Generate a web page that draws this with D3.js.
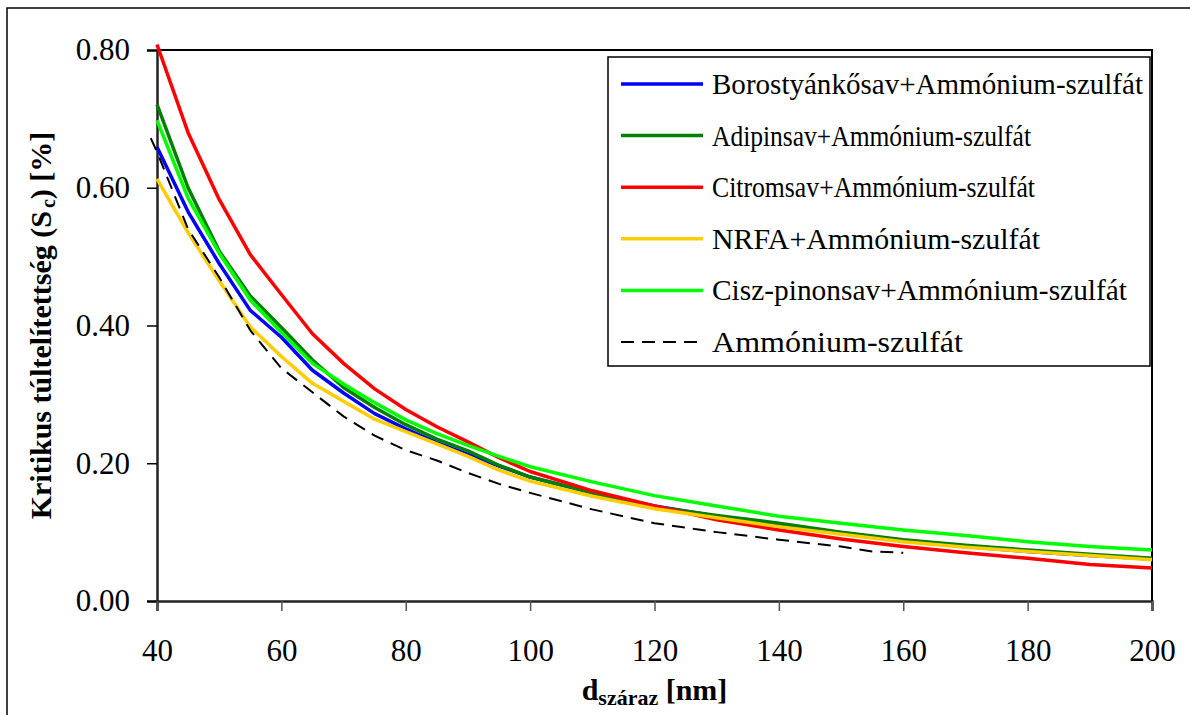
<!DOCTYPE html>
<html>
<head>
<meta charset="utf-8">
<script src="https://cdn.jsdelivr.net/npm/d3@7"></script>
<style>
  body { margin: 0; background: #fff; }
  svg { display: block; }
  text { font-family: "Liberation Serif", "Times New Roman", serif; }
</style>
</head>
<body>
<svg id="chart" width="1190" height="715"></svg>
<script>
// Dry particle diameter [nm] for the mixed-particle series
const diameters = [40, 45, 50, 55, 60, 65, 70, 75, 80, 85, 90, 95, 100, 110, 120, 130, 140, 150, 160, 170, 180, 190, 200];

// Critical supersaturation [%] for each mixture
const borostyankosav = [0.659, 0.565, 0.490, 0.422, 0.383, 0.335, 0.302, 0.272, 0.250, 0.230, 0.213, 0.196, 0.180, 0.157, 0.138, 0.123, 0.111, 0.099, 0.088, 0.079, 0.072, 0.066, 0.061];
const adipinsav      = [0.721, 0.600, 0.508, 0.443, 0.397, 0.350, 0.310, 0.281, 0.256, 0.235, 0.218, 0.197, 0.180, 0.157, 0.137, 0.124, 0.113, 0.100, 0.089, 0.081, 0.074, 0.068, 0.062];
const citromsav      = [0.808, 0.680, 0.583, 0.503, 0.445, 0.388, 0.345, 0.308, 0.278, 0.253, 0.231, 0.208, 0.188, 0.160, 0.138, 0.118, 0.103, 0.090, 0.079, 0.070, 0.062, 0.053, 0.048];
const nrfa           = [0.613, 0.535, 0.465, 0.398, 0.355, 0.316, 0.290, 0.264, 0.246, 0.228, 0.210, 0.190, 0.174, 0.152, 0.134, 0.121, 0.108, 0.097, 0.086, 0.078, 0.072, 0.066, 0.060];
const ciszPinonsav   = [0.698, 0.585, 0.505, 0.437, 0.390, 0.345, 0.315, 0.288, 0.263, 0.243, 0.226, 0.210, 0.195, 0.173, 0.153, 0.138, 0.123, 0.113, 0.103, 0.095, 0.086, 0.079, 0.074];

// Pure ammonium sulfate, measured on its own diameter grid
const ammoniumDiameters = [39, 40, 45, 50, 55, 60, 65, 70, 75, 80, 85, 90, 95, 100, 110, 120, 130, 140, 150, 155, 160];
const ammoniumSzulfat   = [0.672, 0.652, 0.540, 0.470, 0.393, 0.338, 0.303, 0.268, 0.240, 0.219, 0.204, 0.186, 0.170, 0.157, 0.133, 0.113, 0.100, 0.089, 0.079, 0.072, 0.070];

const seriesNames = [
  "Borostyánkősav+Ammónium-szulfát",
  "Adipinsav+Ammónium-szulfát",
  "Citromsav+Ammónium-szulfát",
  "NRFA+Ammónium-szulfát",
  "Cisz-pinonsav+Ammónium-szulfát",
  "Ammónium-szulfát"
];

const xTicks = [40, 60, 80, 100, 120, 140, 160, 180, 200];
const yTicks = [0, 0.2, 0.4, 0.6, 0.8];

// ---- styling ----
const seriesStyles = [
  { color: "#0000ff", dash: null },
  { color: "#008000", dash: null },
  { color: "#ff0000", dash: null },
  { color: "#ffcc00", dash: null },
  { color: "#00ff00", dash: null },
  { color: "#000000", dash: "13,8" }
];
const legendTextWidths = [431, 319, 323, 328, 415, 251];

const series = [
  { x: diameters, y: borostyankosav },
  { x: diameters, y: adipinsav },
  { x: diameters, y: citromsav },
  { x: diameters, y: nrfa },
  { x: diameters, y: ciszPinonsav },
  { x: ammoniumDiameters, y: ammoniumSzulfat }
].map((s, i) => ({
  name: seriesNames[i],
  ...seriesStyles[i],
  points: s.x.map((d, j) => [d, s.y[j]])
}));

const svg = d3.select("#chart");
const plot = { left: 157, top: 50, right: 1152, bottom: 601 };

const x = d3.scaleLinear().domain([40, 200]).range([plot.left, plot.right]);
const y = d3.scaleLinear().domain([0, 0.8]).range([plot.bottom, plot.top]);

// outer chart frame
svg.append("rect")
  .attr("x", 7).attr("y", 8)
  .attr("width", 1200).attr("height", 720)
  .attr("fill", "none").attr("stroke", "#000").attr("stroke-width", 1.5);

// plot area frame (top and right sides)
svg.append("path")
  .attr("d", `M${plot.left},${plot.top}H${plot.right}V${plot.bottom}`)
  .attr("fill", "none").attr("stroke", "#000").attr("stroke-width", 2);

// y axis
const yAxis = svg.append("g")
  .attr("transform", `translate(${plot.left},0)`)
  .call(d3.axisLeft(y).tickValues(yTicks).tickFormat(d3.format(".2f"))
    .tickSize(10).tickPadding(17));
yAxis.select(".domain").attr("stroke", "#222").attr("stroke-width", 2.5);
yAxis.selectAll(".tick line").attr("stroke", "#000").attr("stroke-width", 1.5);
yAxis.selectAll(".tick text")
  .attr("font-family", "'Liberation Serif', 'Times New Roman', serif")
  .attr("font-size", 31).attr("fill", "#000");

// x axis
const xAxis = svg.append("g")
  .attr("transform", `translate(0,${plot.bottom})`)
  .call(d3.axisBottom(x).tickValues(xTicks).tickFormat(d3.format("d"))
    .tickSize(10).tickPadding(28));
xAxis.select(".domain").attr("stroke", "#222").attr("stroke-width", 2.5);
xAxis.selectAll(".tick line").attr("stroke", "#555").attr("stroke-width", 1.5);
xAxis.selectAll(".tick text")
  .attr("font-family", "'Liberation Serif', 'Times New Roman', serif")
  .attr("font-size", 31).attr("fill", "#000");

// series lines
const line = d3.line().x(d => x(d[0])).y(d => y(d[1]));
svg.append("g").selectAll("path")
  .data(series)
  .join("path")
  .attr("d", d => line(d.points))
  .attr("fill", "none")
  .attr("stroke", d => d.color)
  .attr("stroke-width", d => d.dash ? 2 : 3.5)
  .attr("stroke-dasharray", d => d.dash)
  .attr("stroke-linejoin", "round");

// legend
const legend = svg.append("g");
legend.append("rect")
  .attr("x", 608).attr("y", 57)
  .attr("width", 542).attr("height", 309)
  .attr("fill", "#fff").attr("stroke", "#000").attr("stroke-width", 1.5);

const legendRows = legend.selectAll("g.row")
  .data(series)
  .join("g")
  .attr("class", "row")
  .attr("transform", (d, i) => `translate(0,${84 + i * 51.6})`);
legendRows.append("line")
  .attr("x1", 621).attr("x2", 703)
  .attr("stroke", d => d.color)
  .attr("stroke-width", d => d.dash ? 2 : 3.5)
  .attr("stroke-dasharray", d => d.dash);
legendRows.append("text")
  .attr("x", 712).attr("y", 10)
  .attr("font-size", 30)
  .attr("textLength", (d, i) => legendTextWidths[i])
  .attr("lengthAdjust", "spacingAndGlyphs")
  .text(d => d.name);

// axis titles
const yTitle = svg.append("text")
  .attr("transform", `translate(51,${(plot.top + plot.bottom) / 2}) rotate(-90)`)
  .attr("text-anchor", "middle")
  .attr("font-size", 30).attr("font-weight", "bold");
yTitle.append("tspan").text("Kritikus túltelítettség (S");
yTitle.append("tspan").attr("font-size", 20).attr("dy", 4).attr("dx", 3).text("c");
yTitle.append("tspan").attr("dy", -4).text(") [%]");

const xTitle = svg.append("text")
  .attr("x", (plot.left + plot.right) / 2).attr("y", 700)
  .attr("text-anchor", "middle")
  .attr("font-size", 30).attr("font-weight", "bold");
xTitle.append("tspan").text("d");
xTitle.append("tspan").attr("font-size", 22).attr("dy", 5).text("száraz");
xTitle.append("tspan").attr("dy", -5).text(" [nm]");
</script>
</body>
</html>
